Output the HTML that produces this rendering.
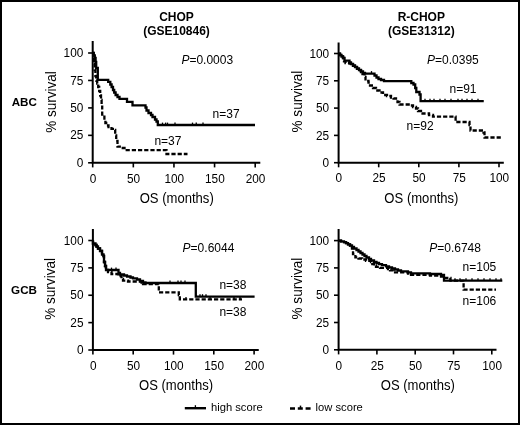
<!DOCTYPE html>
<html><head><meta charset="utf-8"><style>
html,body{margin:0;padding:0;background:#fff;}
svg{display:block;filter:grayscale(1);}
text{font-family:"Liberation Sans", sans-serif;fill:#000;stroke:none;}
</style></head><body>
<svg width="520" height="425" viewBox="0 0 520 425">
<rect x="0" y="0" width="520" height="425" fill="#fff"/>
<rect x="1" y="1" width="518" height="423" fill="none" stroke="#000" stroke-width="2"/>
<path d="M92.7,41 V162.8 H260.3" fill="none" stroke="#000" stroke-width="2.0"/>
<path d="M88.10000000000001,162.80 H92.7" stroke="#000" stroke-width="1.6"/>
<text transform="translate(83.30,166.90) scale(0.97,1)" font-size="12.2" text-anchor="end">0</text>
<path d="M88.10000000000001,135.35 H92.7" stroke="#000" stroke-width="1.6"/>
<text transform="translate(83.30,139.45) scale(0.97,1)" font-size="12.2" text-anchor="end">25</text>
<path d="M88.10000000000001,107.90 H92.7" stroke="#000" stroke-width="1.6"/>
<text transform="translate(83.30,112.00) scale(0.97,1)" font-size="12.2" text-anchor="end">50</text>
<path d="M88.10000000000001,80.45 H92.7" stroke="#000" stroke-width="1.6"/>
<text transform="translate(83.30,84.55) scale(0.97,1)" font-size="12.2" text-anchor="end">75</text>
<path d="M88.10000000000001,53.00 H92.7" stroke="#000" stroke-width="1.6"/>
<text transform="translate(83.30,57.10) scale(0.97,1)" font-size="12.2" text-anchor="end">100</text>
<path d="M92.70,162.8 V167.4" stroke="#000" stroke-width="1.6"/>
<text transform="translate(93.00,182.50) scale(0.97,1)" font-size="12.2" text-anchor="middle">0</text>
<path d="M133.32,162.8 V167.4" stroke="#000" stroke-width="1.6"/>
<text transform="translate(133.62,182.50) scale(0.97,1)" font-size="12.2" text-anchor="middle">50</text>
<path d="M173.95,162.8 V167.4" stroke="#000" stroke-width="1.6"/>
<text transform="translate(174.25,182.50) scale(0.97,1)" font-size="12.2" text-anchor="middle">100</text>
<path d="M214.57,162.8 V167.4" stroke="#000" stroke-width="1.6"/>
<text transform="translate(214.88,182.50) scale(0.97,1)" font-size="12.2" text-anchor="middle">150</text>
<path d="M255.20,162.8 V167.4" stroke="#000" stroke-width="1.6"/>
<text transform="translate(255.50,182.50) scale(0.97,1)" font-size="12.2" text-anchor="middle">200</text>
<text transform="translate(176.70,202.60) scale(0.855,1)" font-size="15.3" text-anchor="middle">OS (months)</text>
<text transform="translate(55.70,102.00) rotate(-90) scale(0.885,1)" font-size="15.3" text-anchor="middle">% survival</text>
<path d="M338.6,42.5 V162.7 H503.8" fill="none" stroke="#000" stroke-width="2.0"/>
<path d="M334.0,162.70 H338.6" stroke="#000" stroke-width="1.6"/>
<text transform="translate(329.20,166.80) scale(0.97,1)" font-size="12.2" text-anchor="end">0</text>
<path d="M334.0,135.40 H338.6" stroke="#000" stroke-width="1.6"/>
<text transform="translate(329.20,139.50) scale(0.97,1)" font-size="12.2" text-anchor="end">25</text>
<path d="M334.0,108.10 H338.6" stroke="#000" stroke-width="1.6"/>
<text transform="translate(329.20,112.20) scale(0.97,1)" font-size="12.2" text-anchor="end">50</text>
<path d="M334.0,80.80 H338.6" stroke="#000" stroke-width="1.6"/>
<text transform="translate(329.20,84.90) scale(0.97,1)" font-size="12.2" text-anchor="end">75</text>
<path d="M334.0,53.50 H338.6" stroke="#000" stroke-width="1.6"/>
<text transform="translate(329.20,57.60) scale(0.97,1)" font-size="12.2" text-anchor="end">100</text>
<path d="M338.60,162.7 V167.29999999999998" stroke="#000" stroke-width="1.6"/>
<text transform="translate(338.90,182.40) scale(0.97,1)" font-size="12.2" text-anchor="middle">0</text>
<path d="M378.70,162.7 V167.29999999999998" stroke="#000" stroke-width="1.6"/>
<text transform="translate(379.00,182.40) scale(0.97,1)" font-size="12.2" text-anchor="middle">25</text>
<path d="M418.80,162.7 V167.29999999999998" stroke="#000" stroke-width="1.6"/>
<text transform="translate(419.10,182.40) scale(0.97,1)" font-size="12.2" text-anchor="middle">50</text>
<path d="M458.90,162.7 V167.29999999999998" stroke="#000" stroke-width="1.6"/>
<text transform="translate(459.20,182.40) scale(0.97,1)" font-size="12.2" text-anchor="middle">75</text>
<path d="M499.00,162.7 V167.29999999999998" stroke="#000" stroke-width="1.6"/>
<text transform="translate(499.30,182.40) scale(0.97,1)" font-size="12.2" text-anchor="middle">100</text>
<text transform="translate(421.40,202.50) scale(0.855,1)" font-size="15.3" text-anchor="middle">OS (months)</text>
<text transform="translate(301.90,101.60) rotate(-90) scale(0.885,1)" font-size="15.3" text-anchor="middle">% survival</text>
<path d="M92.9,229 V350 H258.75" fill="none" stroke="#000" stroke-width="2.0"/>
<path d="M88.30000000000001,350.00 H92.9" stroke="#000" stroke-width="1.6"/>
<text transform="translate(83.50,354.10) scale(0.97,1)" font-size="12.2" text-anchor="end">0</text>
<path d="M88.30000000000001,322.62 H92.9" stroke="#000" stroke-width="1.6"/>
<text transform="translate(83.50,326.73) scale(0.97,1)" font-size="12.2" text-anchor="end">25</text>
<path d="M88.30000000000001,295.25 H92.9" stroke="#000" stroke-width="1.6"/>
<text transform="translate(83.50,299.35) scale(0.97,1)" font-size="12.2" text-anchor="end">50</text>
<path d="M88.30000000000001,267.88 H92.9" stroke="#000" stroke-width="1.6"/>
<text transform="translate(83.50,271.98) scale(0.97,1)" font-size="12.2" text-anchor="end">75</text>
<path d="M88.30000000000001,240.50 H92.9" stroke="#000" stroke-width="1.6"/>
<text transform="translate(83.50,244.60) scale(0.97,1)" font-size="12.2" text-anchor="end">100</text>
<path d="M92.90,350 V354.6" stroke="#000" stroke-width="1.6"/>
<text transform="translate(93.20,369.70) scale(0.97,1)" font-size="12.2" text-anchor="middle">0</text>
<path d="M133.20,350 V354.6" stroke="#000" stroke-width="1.6"/>
<text transform="translate(133.50,369.70) scale(0.97,1)" font-size="12.2" text-anchor="middle">50</text>
<path d="M173.50,350 V354.6" stroke="#000" stroke-width="1.6"/>
<text transform="translate(173.80,369.70) scale(0.97,1)" font-size="12.2" text-anchor="middle">100</text>
<path d="M213.80,350 V354.6" stroke="#000" stroke-width="1.6"/>
<text transform="translate(214.10,369.70) scale(0.97,1)" font-size="12.2" text-anchor="middle">150</text>
<path d="M254.10,350 V354.6" stroke="#000" stroke-width="1.6"/>
<text transform="translate(254.40,369.70) scale(0.97,1)" font-size="12.2" text-anchor="middle">200</text>
<text transform="translate(176.02,389.80) scale(0.855,1)" font-size="15.3" text-anchor="middle">OS (months)</text>
<text transform="translate(55.40,288.90) rotate(-90) scale(0.885,1)" font-size="15.3" text-anchor="middle">% survival</text>
<path d="M338.6,229 V349.8 H496.5" fill="none" stroke="#000" stroke-width="2.0"/>
<path d="M334.0,349.80 H338.6" stroke="#000" stroke-width="1.6"/>
<text transform="translate(329.20,353.90) scale(0.97,1)" font-size="12.2" text-anchor="end">0</text>
<path d="M334.0,322.50 H338.6" stroke="#000" stroke-width="1.6"/>
<text transform="translate(329.20,326.60) scale(0.97,1)" font-size="12.2" text-anchor="end">25</text>
<path d="M334.0,295.20 H338.6" stroke="#000" stroke-width="1.6"/>
<text transform="translate(329.20,299.30) scale(0.97,1)" font-size="12.2" text-anchor="end">50</text>
<path d="M334.0,267.90 H338.6" stroke="#000" stroke-width="1.6"/>
<text transform="translate(329.20,272.00) scale(0.97,1)" font-size="12.2" text-anchor="end">75</text>
<path d="M334.0,240.60 H338.6" stroke="#000" stroke-width="1.6"/>
<text transform="translate(329.20,244.70) scale(0.97,1)" font-size="12.2" text-anchor="end">100</text>
<path d="M338.60,349.8 V354.40000000000003" stroke="#000" stroke-width="1.6"/>
<text transform="translate(338.90,369.50) scale(0.97,1)" font-size="12.2" text-anchor="middle">0</text>
<path d="M376.90,349.8 V354.40000000000003" stroke="#000" stroke-width="1.6"/>
<text transform="translate(377.20,369.50) scale(0.97,1)" font-size="12.2" text-anchor="middle">25</text>
<path d="M415.20,349.8 V354.40000000000003" stroke="#000" stroke-width="1.6"/>
<text transform="translate(415.50,369.50) scale(0.97,1)" font-size="12.2" text-anchor="middle">50</text>
<path d="M453.50,349.8 V354.40000000000003" stroke="#000" stroke-width="1.6"/>
<text transform="translate(453.80,369.50) scale(0.97,1)" font-size="12.2" text-anchor="middle">75</text>
<path d="M491.80,349.8 V354.40000000000003" stroke="#000" stroke-width="1.6"/>
<text transform="translate(492.10,369.50) scale(0.97,1)" font-size="12.2" text-anchor="middle">100</text>
<text transform="translate(417.75,389.60) scale(0.855,1)" font-size="15.3" text-anchor="middle">OS (months)</text>
<text transform="translate(301.50,288.60) rotate(-90) scale(0.885,1)" font-size="15.3" text-anchor="middle">% survival</text>
<text x="176.50" y="21.40" font-size="12" text-anchor="middle" font-weight="bold" >CHOP</text>
<text x="176.50" y="35.40" font-size="12" text-anchor="middle" font-weight="bold" >(GSE10846)</text>
<text x="421.30" y="21.40" font-size="12" text-anchor="middle" font-weight="bold" >R-CHOP</text>
<text x="421.30" y="35.40" font-size="12" text-anchor="middle" font-weight="bold" >(GSE31312)</text>
<text transform="translate(24.3,106.0) scale(1.04,1)" font-size="11.2" font-weight="bold" text-anchor="middle">ABC</text>
<text transform="translate(24.0,293.5) scale(1.04,1)" font-size="11.2" font-weight="bold" text-anchor="middle">GCB</text>
<text x="181.4" y="63.6" font-size="12"><tspan font-style="italic">P</tspan>=0.0003</text>
<text x="427.0" y="63.6" font-size="12"><tspan font-style="italic">P</tspan>=0.0395</text>
<text x="182.6" y="252.0" font-size="12"><tspan font-style="italic">P</tspan>=0.6044</text>
<text x="429.2" y="251.6" font-size="12"><tspan font-style="italic">P</tspan>=0.6748</text>
<text x="212.60" y="117.50" font-size="12" text-anchor="start" font-weight="normal" >n=37</text>
<text x="154.40" y="144.50" font-size="12" text-anchor="start" font-weight="normal" >n=37</text>
<text x="449.50" y="93.20" font-size="12" text-anchor="start" font-weight="normal" >n=91</text>
<text x="406.60" y="129.70" font-size="12" text-anchor="start" font-weight="normal" >n=92</text>
<text x="219.40" y="289.40" font-size="12" text-anchor="start" font-weight="normal" >n=38</text>
<text x="219.40" y="315.60" font-size="12" text-anchor="start" font-weight="normal" >n=38</text>
<text x="462.60" y="270.60" font-size="12" text-anchor="start" font-weight="normal" >n=105</text>
<text x="462.60" y="305.40" font-size="12" text-anchor="start" font-weight="normal" >n=106</text>
<path d="M92.6,53 H93.8 V55.5 H94.8 V58 H95.6 V62 H96.2 V68 H97.8 V79.8 H108.2 V81.8 H110.3 V84.5 H111.6 V87 H113 V90 H114.2 V92.5 H115.6 V95 H117.5 V97 H119.5 V98.8 H127 V101.8 H132.5 V105.3 H145.5 V107.5 H146.5 V110.5 H148.5 V113 H151 V115 H152.5 V117 H155 V119.5 H156.5 V121.5 H157.8 V125 H255" fill="none" stroke="#000" stroke-width="2.3"/>
<path d="M92.6,53 H93.3 V58 H94 V64 H94.7 V70 H95.4 V76 H96.2 V80.5 H97.2 V83.5 H98.2 V87 H99.2 V91 H100.2 V95.5 H101 V100 H101.6 V105 H102.2 V114.6 H104.4 V120 H105.4 V123 H106.2 V125.5 H108.5 V127 H111.5 V128.8 H114.6 V130 H115.2 V135.5 H116.2 V141 H117.5 V146.7 H121 V148 H124.5 V150.2 H166.5 V154 H187.5" fill="none" stroke="#000" stroke-width="2.3" stroke-dasharray="4.2,2"/>
<path d="M338.7,53.6 H340 V55 H341.5 V56.5 H343 V58 H344.5 V60.6 H349.5 V62.3 H351 V64 H353 V65.5 H355 V67 H357 V68.5 H359 V70 H361 V71.5 H363 V72.8 H365 V73.6 H374.5 V75.5 H376.5 V77.5 H378.5 V79 H381 V80 H384 V81.2 H411.3 V83 H413.5 V84.5 H415.2 V88 H416.3 V92 H419.5 V94.5 H420.6 V101.2 H483.75" fill="none" stroke="#000" stroke-width="2.3"/>
<path d="M338.7,53.6 H340 V55 H341.5 V56.5 H343 V58 H344 V61.3 H345.5 V63 H349.5 V63.5 H351 V64.5 H353 V65.8 H355 V67.3 H357 V68.8 H359 V70.3 H361 V72 H362.5 V74 H364.5 V77 H365.5 V81 H368.5 V82.5 H370 V85.5 H373 V88 H376 V90.5 H379.5 V92.5 H383 V95 H387 V96 H391 V97.5 H393.5 V98.5 H396 V100 H397.5 V102 H399.5 V104.5 H410 V105.5 H413 V107 H416 V108.5 H418 V111 H421 V113.5 H429 V115 H433 V116.6 H455.6 V122 H469.5 V125 H470.5 V130.5 H483.5 V132.5 H484.5 V137.5 H501.25" fill="none" stroke="#000" stroke-width="2.3" stroke-dasharray="4.2,2"/>
<path d="M93,240.5 V243.5 H95.5 V245 H96.5 V246.5 H98 V248.5 H100 V251 H102 V254.5 H103.5 V256 H104 V262 H105 V266 H106 V270 H118.5 V273 H120 V274.5 H124 V275.5 H127 V276.5 H130.5 V277.5 H133 V278.3 H137 V279.5 H140 V281 H143 V282.5 H145.5 V283 H195.8 V296.6 H254.6" fill="none" stroke="#000" stroke-width="2.3"/>
<path d="M93,240.5 V243.5 H95.5 V245 H96.5 V246.5 H98 V248.5 H100 V251 H102 V254.5 H103.5 V256 H104 V262 H105 V266 H106 V270 H108 V272 H111.5 V274 H118 V276 H121.5 V279 H123 V280.6 H128 V281.5 H141.5 V282.5 H143 V284 H158.8 V292.3 H178.8 V295 H179.8 V299.3 H242" fill="none" stroke="#000" stroke-width="2.3" stroke-dasharray="4.2,2"/>
<path d="M338.8,240.6 H341 V241.3 H344 V242.2 H346 V243.2 H348 V244.3 H350 V245.5 H352 V247 H354 V248.5 H356.5 V250 H358.5 V251.5 H360.5 V253 H362.5 V254.5 H364.5 V256 H366.5 V257.5 H369 V259 H371 V260.5 H374 V262 H376.5 V263 H379 V264.2 H382 V265.2 H386 V266.3 H389 V267.5 H392 V268.5 H395 V269.5 H398 V270.5 H401 V271.3 H408 V272.3 H411 V273.3 H430 V274 H441 V274.8 H444 V280.6 H502.3" fill="none" stroke="#000" stroke-width="2.3"/>
<path d="M338.8,240.6 H341 V241.3 H344 V242.2 H346 V243.2 H348 V244.3 H350 V245.5 H352 V248.5 H353 V254 H355.4 V257.3 H358.5 V258.5 H362 V259.5 H366 V260.8 H371 V262 H372.3 V264 H374 V265.5 H376 V266.8 H380 V267.8 H388 V269 H390 V270.3 H393.5 V272.3 H408 V273.6 H411 V274.8 H430 V275.5 H441 V276.5 H444.5 V277.8 H450.5 V280.6 H463.6 V289.6 H496" fill="none" stroke="#000" stroke-width="2.3" stroke-dasharray="4.2,2"/>
<path d="M162.5,125 V122.6" stroke="#000" stroke-width="1.3"/>
<path d="M165.6,125 V122.6" stroke="#000" stroke-width="1.3"/>
<path d="M167.5,125 V122.6" stroke="#000" stroke-width="1.3"/>
<path d="M175,125 V122.6" stroke="#000" stroke-width="1.3"/>
<path d="M192.5,125 V122.6" stroke="#000" stroke-width="1.3"/>
<path d="M196.25,125 V122.6" stroke="#000" stroke-width="1.3"/>
<path d="M203,125 V122.6" stroke="#000" stroke-width="1.3"/>
<path d="M425,101.2 V98.8" stroke="#000" stroke-width="1.3"/>
<path d="M430,101.2 V98.8" stroke="#000" stroke-width="1.3"/>
<path d="M434,101.2 V98.8" stroke="#000" stroke-width="1.3"/>
<path d="M440,101.2 V98.8" stroke="#000" stroke-width="1.3"/>
<path d="M445,101.2 V98.8" stroke="#000" stroke-width="1.3"/>
<path d="M451,101.2 V98.8" stroke="#000" stroke-width="1.3"/>
<path d="M458,101.2 V98.8" stroke="#000" stroke-width="1.3"/>
<path d="M462,101.2 V98.8" stroke="#000" stroke-width="1.3"/>
<path d="M467,101.2 V98.8" stroke="#000" stroke-width="1.3"/>
<path d="M472,101.2 V98.8" stroke="#000" stroke-width="1.3"/>
<path d="M478,101.2 V98.8" stroke="#000" stroke-width="1.3"/>
<path d="M200,296.6 V294.20000000000005" stroke="#000" stroke-width="1.3"/>
<path d="M202.5,296.6 V294.20000000000005" stroke="#000" stroke-width="1.3"/>
<path d="M206,296.6 V294.20000000000005" stroke="#000" stroke-width="1.3"/>
<path d="M450,280.6 V278.20000000000005" stroke="#000" stroke-width="1.3"/>
<path d="M455,280.6 V278.20000000000005" stroke="#000" stroke-width="1.3"/>
<path d="M460,280.6 V278.20000000000005" stroke="#000" stroke-width="1.3"/>
<path d="M466,280.6 V278.20000000000005" stroke="#000" stroke-width="1.3"/>
<path d="M472,280.6 V278.20000000000005" stroke="#000" stroke-width="1.3"/>
<path d="M478,280.6 V278.20000000000005" stroke="#000" stroke-width="1.3"/>
<path d="M484,280.6 V278.20000000000005" stroke="#000" stroke-width="1.3"/>
<path d="M490,280.6 V278.20000000000005" stroke="#000" stroke-width="1.3"/>
<path d="M496,280.6 V278.20000000000005" stroke="#000" stroke-width="1.3"/>
<path d="M501,280.6 V278.20000000000005" stroke="#000" stroke-width="1.3"/>
<path d="M111.5,270 V267.6" stroke="#000" stroke-width="1.3"/>
<path d="M116,270 V267.6" stroke="#000" stroke-width="1.3"/>
<path d="M170,283 V280.6" stroke="#000" stroke-width="1.3"/>
<path d="M178,283 V280.6" stroke="#000" stroke-width="1.3"/>
<path d="M181,283 V280.6" stroke="#000" stroke-width="1.3"/>
<path d="M185,283 V280.6" stroke="#000" stroke-width="1.3"/>
<path d="M186,299.3 V296.90000000000003" stroke="#000" stroke-width="1.3"/>
<path d="M210,299.3 V296.90000000000003" stroke="#000" stroke-width="1.3"/>
<path d="M234,299.3 V296.90000000000003" stroke="#000" stroke-width="1.3"/>
<path d="M240,299.3 V296.90000000000003" stroke="#000" stroke-width="1.3"/>
<path d="M371.5,73.5 V71.1" stroke="#000" stroke-width="1.3"/>
<path d="M184.8,408.2 H206" stroke="#000" stroke-width="2.4"/>
<path d="M195.4,408 V405.2" stroke="#000" stroke-width="1.3"/>
<text x="211.00" y="411.30" font-size="11.2" text-anchor="start" font-weight="normal" >high score</text>
<path d="M290,408.5 H310.8" stroke="#000" stroke-width="2.4" stroke-dasharray="5,2.8"/>
<path d="M300.5,408.5 V405.6" stroke="#000" stroke-width="1.5"/>
<text x="315.60" y="411.30" font-size="11.2" text-anchor="start" font-weight="normal" >low score</text>
</svg>
</body></html>
